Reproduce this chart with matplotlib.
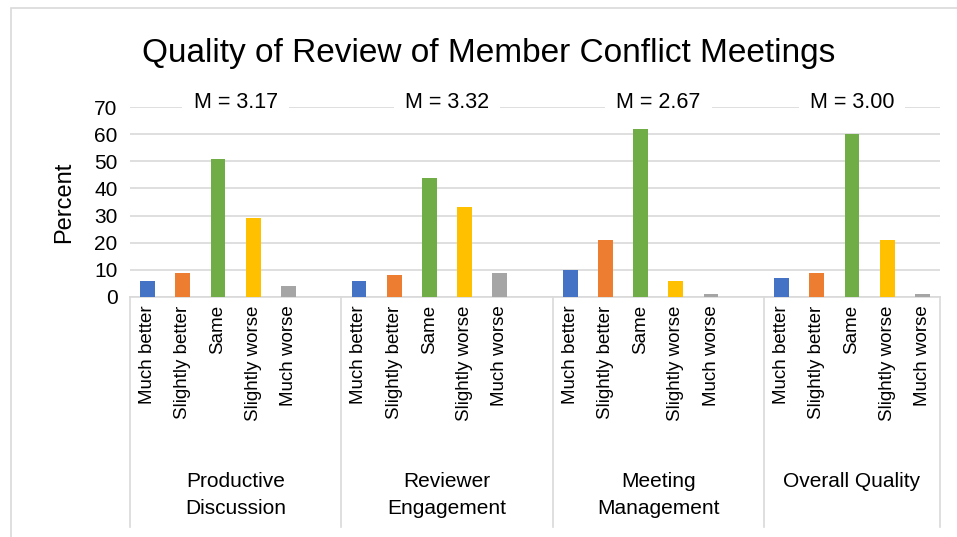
import numpy as np
import matplotlib
matplotlib.use("Agg")
import matplotlib.pyplot as plt
from matplotlib.patches import Rectangle

plt.rcParams["font.family"] = ["Liberation Sans", "DejaVu Sans"]

# ---- data ----
groups = ["Productive\nDiscussion", "Reviewer\nEngagement", "Meeting\nManagement", "Overall Quality"]
responses = ["Much better", "Slightly better", "Same", "Slightly worse", "Much worse"]
productive = [6, 9, 51, 29, 4]
reviewer = [6, 8, 44, 33, 9]
meeting = [10, 21, 62, 6, 1]
overall = [7, 9, 60, 21, 1]
means = ["M = 3.17", "M = 3.32", "M = 2.67", "M = 3.00"]
colors = ["#4472C4", "#ED7D31", "#70AD47", "#FFC000", "#A5A5A5"]

series = [productive, reviewer, meeting, overall]

W, H = 957, 537
fig = plt.figure(figsize=(W / 100, H / 100), dpi=100)
# chart frame
fig.patches.append(Rectangle((11 / W, -0.05), 1.1, 1 - 8 / H + 0.05, transform=fig.transFigure,
                             fill=False, edgecolor="#d9d9d9", lw=1.2))

ax = fig.add_axes([130 / W, (H - 297) / H, 810 / W, 190 / H])
ax.set_xlim(-0.5, 22.5)
ax.set_ylim(0, 70)

# each group takes 6 slots (last group 5)
xpos, xlab = [], []
for g, vals in enumerate(series):
    x = 6 * g + np.arange(len(vals))
    ax.bar(x, vals, width=0.42, color=colors, zorder=3)
    xpos.extend(x); xlab.extend(responses)

ax.set_yticks(range(0, 71, 10))
ax.tick_params(axis="y", length=0, labelsize=15, pad=9)
ax.set_xticks(xpos)
ax.set_xticklabels(xlab, rotation=90, fontsize=13.5, va="top", ha="center")
ax.tick_params(axis="x", length=0, pad=6)
ax.grid(axis="y", color="#d9d9d9", lw=1.2, zorder=0)
for s in ["left", "right", "top"]:
    ax.spines[s].set_visible(False)
ax.spines["bottom"].set_color("#d9d9d9")
ax.spines["bottom"].set_linewidth(1.2)
ax.set_ylabel("Percent", fontsize=17, labelpad=14)

# group dividers and labels
bottom = -(527 - 297) / 190
trans = ax.get_xaxis_transform()
for xd in [-0.5, 5.5, 11.5, 17.5, 22.5]:
    ax.plot([xd, xd], [0, bottom], color="#d9d9d9", lw=1.2, transform=trans, clip_on=False)
centers = [2.5, 8.5, 14.5, 20]
for c, g, m in zip(centers, groups, means):
    ax.text(c, -(472 - 297) / 190, g, transform=trans, ha="center", va="top",
            fontsize=15, linespacing=1.55)
    ax.text(c, 71.5, m, ha="center", va="center", fontsize=15.5, zorder=5,
            bbox=dict(facecolor="white", edgecolor="none", pad=8))

fig.text(489 / W, 1 - 53 / H, "Quality of Review of Member Conflict Meetings",
         ha="center", va="center", fontsize=24)

plt.savefig("out.png", dpi=100)
